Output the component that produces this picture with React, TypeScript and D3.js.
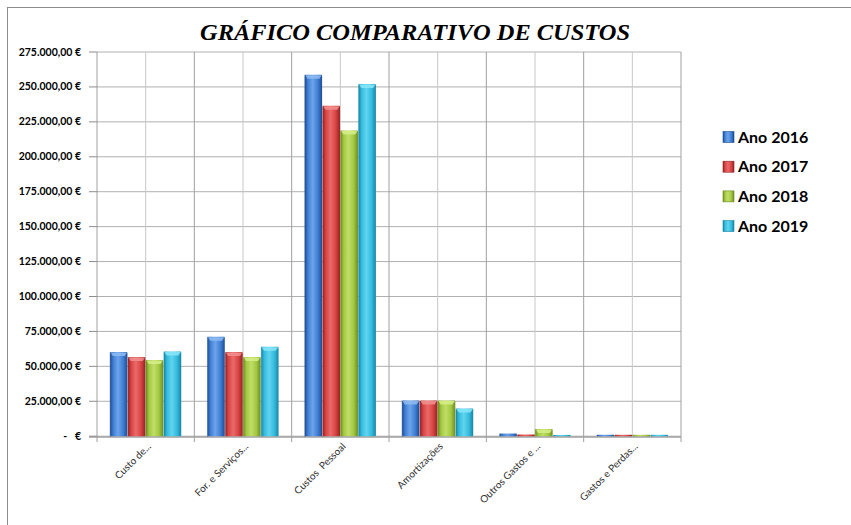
import React from "react";
import * as d3 from "d3";

const categories = [
  "Custo de...",
  "For. e Serviços...",
  "Custos  Pessoal",
  "Amortizações",
  "Outros Gastos e ...",
  "Gastos e Perdas...",
];
const seriesNames = ["Ano 2016", "Ano 2017", "Ano 2018", "Ano 2019"];
const values2016 = [60200, 71200, 258800, 25500, 1900, 1000];
const values2017 = [56600, 60200, 236600, 25500, 1200, 1000];
const values2018 = [54500, 56600, 218800, 25500, 5200, 1000];
const values2019 = [60700, 64000, 252100, 19800, 900, 1000];
const yTicks = [0, 25000, 50000, 75000, 100000, 125000, 150000, 175000, 200000, 225000, 250000, 275000];

const seriesValues = [values2016, values2017, values2018, values2019];
const palette = [
  { base: "#3f7fd4", dark: "#1d4c94", light: "#6ea3ea", cap: "#8fbcf2" },
  { base: "#d84343", dark: "#962222", light: "#ea6a6a", cap: "#f29090" },
  { base: "#a3c842", dark: "#6d8c1f", light: "#c0de68", cap: "#d6ee88" },
  { base: "#33bcdf", dark: "#1886a4", light: "#62d4ee", cap: "#8ae6f8" },
];

const locale = d3.formatLocale({
  decimal: ",",
  thousands: ".",
  grouping: [3],
  currency: ["", " €"],
});
const fmt = locale.format("$,.2f");

export default function App() {
  const W = 851;
  const H = 525;
  const left = 97;
  const right = 681;
  const top = 52;
  const bottom = 437;

  const x0 = d3.scaleBand<string>().domain(categories).range([left, right]).padding(0);
  const bw = x0.bandwidth();
  const x1 = d3
    .scaleBand<string>()
    .domain(seriesNames)
    .range([12.8, bw - 12.8])
    .padding(0);
  const y = d3.scaleLinear().domain([0, 275000]).range([bottom - 0.8, top]);

  const bars: React.ReactNode[] = [];
  categories.forEach((c, ci) => {
    seriesNames.forEach((s, si) => {
      const v = seriesValues[si][ci];
      const bx = (x0(c) as number) + (x1(s) as number);
      const bwid = x1.bandwidth();
      const by = y(v);
      const bh = bottom - 0.8 - by;
      const capH = Math.min(4, bh);
      bars.push(
        <g key={`${ci}-${si}`}>
          <rect x={bx + 0.3} y={by} width={bwid - 0.6} height={bh} fill={`url(#grad${si})`} rx={bh > 3 ? 1 : 0} />
          {bh > 3 && (
            <path
              d={`M${bx + 0.8},${by + 0.5} L${bx + bwid - 0.8},${by + 0.5} L${bx + bwid - 3},${by + capH} L${bx + 3},${by + capH} Z`}
              fill={palette[si].cap}
              opacity={0.85}
            />
          )}
          {bh > 3 && (
            <line x1={bx + 0.3} x2={bx + 0.3} y1={by} y2={bottom} stroke={palette[si].dark} strokeOpacity={0.5} strokeWidth={0.8} />
          )}
        </g>
      );
    });
  });

  return (
    <svg
      width={W}
      height={H}
      style={{ position: "absolute", left: 0, top: 0, background: "#fff" }}
      fontFamily="Lato, 'Open Sans', sans-serif"
    >
      <defs>
        {palette.map((p, i) => (
          <linearGradient key={i} id={`grad${i}`} x1="0" x2="1" y1="0" y2="0">
            <stop offset="0%" stopColor={p.dark} />
            <stop offset="18%" stopColor={p.base} />
            <stop offset="45%" stopColor={p.light} />
            <stop offset="75%" stopColor={p.base} />
            <stop offset="100%" stopColor={p.dark} />
          </linearGradient>
        ))}
      </defs>

      {/* chart frame */}
      <line x1={7.5} x2={7.5} y1={7} y2={H} stroke="#8c8c8c" strokeWidth={1} />
      <line x1={7} x2={W} y1={7.5} y2={7.5} stroke="#8c8c8c" strokeWidth={1} />

      {/* title */}
      <text
        x={415}
        y={40}
        textAnchor="middle"
        fontFamily="'Liberation Serif', 'DejaVu Serif', serif"
        fontWeight="bold"
        fontStyle="italic"
        fontSize={24}
        textLength={430}
        lengthAdjust="spacingAndGlyphs"
        fill="#000"
      >
        GRÁFICO COMPARATIVO DE CUSTOS
      </text>

      {/* horizontal gridlines */}
      {yTicks.map((t) => (
        <line key={`h${t}`} x1={left} x2={right} y1={y(t)} y2={y(t)} stroke="#b0b0b0" strokeWidth={1} />
      ))}
      {/* vertical gridlines (boundaries and midpoints) */}
      {categories.map((c) => {
        const xs = x0(c) as number;
        return (
          <g key={`v${c}`}>
            <line x1={xs} x2={xs} y1={top} y2={bottom + 5} stroke="#a0a0a0" strokeWidth={1} />
            <line x1={xs + bw / 2} x2={xs + bw / 2} y1={top} y2={bottom} stroke="#c8c8c8" strokeWidth={1} />
          </g>
        );
      })}
      <line x1={right} x2={right} y1={top} y2={bottom + 5} stroke="#a0a0a0" strokeWidth={1} />

      {/* x axis line */}
      <line x1={left - 8} x2={right} y1={bottom} y2={bottom} stroke="#a0a0a0" strokeWidth={1.5} />

      {/* y axis ticks and labels */}
      {yTicks.map((t) => (
        <g key={`yt${t}`}>
          <line x1={left - 8} x2={left} y1={y(t)} y2={y(t)} stroke="#8c8c8c" strokeWidth={1} />
          <text
            x={81}
            y={y(t) + 3.5}
            textAnchor="end"
            fontSize={10.5}
            fontWeight="bold"
            fill="#000"
            style={{ whiteSpace: "pre" }}
          >
            {t === 0 ? "-   €" : fmt(t)}
          </text>
        </g>
      ))}

      {bars}

      {/* x labels */}
      {categories.map((c) => {
        const cx = (x0(c) as number) + bw / 2 + 6;
        const cy = bottom + 10;
        return (
          <text
            key={`xl${c}`}
            x={cx}
            y={cy}
            textAnchor="end"
            fontSize={10}
            fill="#303030"
            transform={`rotate(-45, ${cx}, ${cy})`}
            style={{ whiteSpace: "pre" }}
          >
            {c}
          </text>
        );
      })}

      {/* legend */}
      {seriesNames.map((s, i) => {
        const ly = 137 + i * 29.7;
        return (
          <g key={`lg${s}`}>
            <rect x={723} y={ly - 5.5} width={11} height={11} fill={`url(#grad${i})`} stroke={palette[i].dark} strokeWidth={0.6} />
            <text x={738} y={ly + 5.5} fontSize={16} fontWeight="bold" fill="#000">
              {s}
            </text>
          </g>
        );
      })}
    </svg>
  );
}
